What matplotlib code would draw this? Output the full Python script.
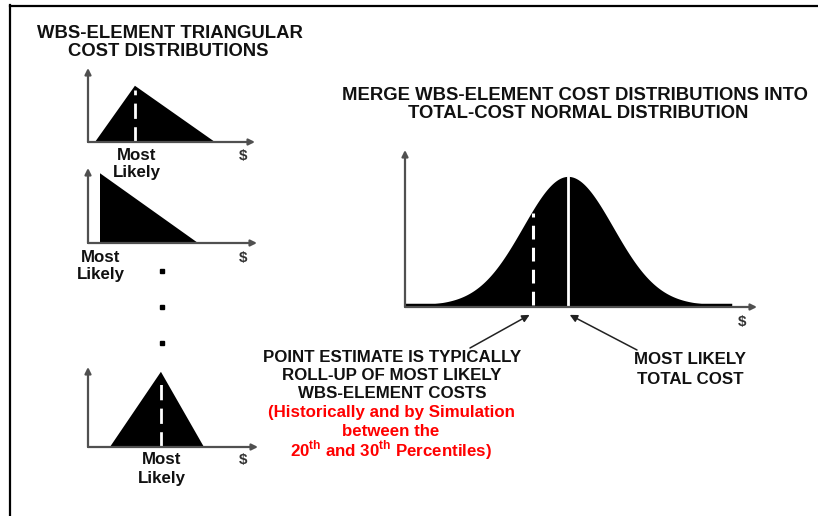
import matplotlib.pyplot as plt
import numpy as np
from matplotlib.lines import Line2D

plt.rcParams['font.family'] = ['Liberation Sans', 'DejaVu Sans']
plt.rcParams['mathtext.fontset'] = 'custom'
plt.rcParams['mathtext.rm'] = 'Liberation Sans:bold'
plt.rcParams['mathtext.bf'] = 'Liberation Sans:bold'

W, H = 818, 516

# triangular distributions (cost axis 0-100, height as share of axis)
tri_low = [4.2, 7.1, 12.9]
tri_mode = [28.1, 7.1, 42.9]
tri_high = [76.0, 65.1, 68.2]
tri_peak = [0.76, 0.93, 0.94]
tri_dashed = [True, False, True]
# pixel boxes of the three small charts: left, top, right, bottom
tri_boxes = [(88, 68, 255, 142), (88, 168, 257, 243), (88, 367, 258, 447)]
tri_label_pos = [(137, 155, 173), (101, 257, 275), (162, 459, 478)]

# total cost normal distribution (cost axis 0-100)
norm_mean = 46.3
norm_sigma = 12.8
norm_end = 92.3
norm_peak = 0.82
point_estimate = 36.4
norm_box = (405, 150, 757, 307)

dot_y = [271, 307, 343]

GRAY = '#505050'
TXT = '#111111'
TITLE_SIZE = 13.3
BODY_SIZE = 12.2


def px_axes(fig, box):
    l, t, r, b = box
    ax = fig.add_axes([l / W, 1 - b / H, (r - l) / W, (b - t) / H])
    ax.set_xlim(0, 100)
    ax.set_ylim(0, 1)
    ax.axis('off')
    return ax


def draw_axes_arrows(ax, lw=1.6):
    arrow = dict(arrowstyle='-|>', color=GRAY, lw=lw, mutation_scale=9,
                 shrinkA=0, shrinkB=0)
    ax.annotate('', xy=(100, 0), xytext=(0, 0), arrowprops=arrow, annotation_clip=False)
    ax.annotate('', xy=(0, 1), xytext=(0, 0), arrowprops=arrow, annotation_clip=False)


def ftext(x, y, s, size=BODY_SIZE, color=TXT, **kw):
    fig.text(x / W, 1 - y / H, s, ha='center', va='center', fontsize=size,
             fontweight='bold', color=color, **kw)


fig = plt.figure(figsize=(W / 100, H / 100), dpi=100)

# frame (cut at right and bottom)
fig.add_artist(Line2D([10 / W, 10 / W], [0, 1 - 5 / H], color='black', lw=1.6))
fig.add_artist(Line2D([10 / W, 1], [1 - 6 / H, 1 - 6 / H], color='black', lw=1.6))

# --- left: WBS-element triangles ---
ftext(170, 33, 'WBS-ELEMENT TRIANGULAR', size=TITLE_SIZE)
ftext(168, 52, 'COST DISTRIBUTIONS', size=TITLE_SIZE)

for i in range(3):
    ax = px_axes(fig, tri_boxes[i])
    ax.fill([tri_low[i], tri_mode[i], tri_high[i]], [0, tri_peak[i], 0],
            color='black', lw=0, zorder=2)
    if tri_dashed[i]:
        ax.plot([tri_mode[i], tri_mode[i]], [0, tri_peak[i] * 0.93], color='white',
                lw=2, dashes=(5.5, 3), zorder=3)
    draw_axes_arrows(ax)
    x, y1, y2 = tri_label_pos[i]
    ftext(x, y1, 'Most')
    ftext(x, y2, 'Likely')
    ftext(243, y1 + 1, '$', size=11, color='#333333')

overlay = fig.add_axes([0, 0, 1, 1])
overlay.set_xlim(0, W)
overlay.set_ylim(H, 0)
overlay.axis('off')
overlay.plot([162] * len(dot_y), dot_y, 's', color='black', ms=3.2)

# --- right: total-cost normal ---
ftext(575, 96, 'MERGE WBS-ELEMENT COST DISTRIBUTIONS INTO', size=TITLE_SIZE)
ftext(578, 114, 'TOTAL-COST NORMAL DISTRIBUTION', size=TITLE_SIZE)

axn = px_axes(fig, norm_box)
xs = np.linspace(0, norm_end, 400)
ys = norm_peak * np.exp(-0.5 * ((xs - norm_mean) / norm_sigma) ** 2)
axn.fill_between(xs, 0.012, ys + 0.012, color='black', lw=0, zorder=2)
axn.plot([0, norm_end], [0.012, 0.012], color='black', lw=2.5, zorder=2)
pe_h = norm_peak * np.exp(-0.5 * ((point_estimate - norm_mean) / norm_sigma) ** 2)
axn.plot([point_estimate] * 2, [0.012, pe_h - 0.01], color='white', lw=2.2,
         dashes=(4.5, 2.7), zorder=3)
axn.plot([norm_mean] * 2, [0.012, norm_peak + 0.005], color='white', lw=2, zorder=3)
draw_axes_arrows(axn)
ftext(742, 322, '$', size=11, color='#333333')

pointer = dict(arrowstyle='-|>', color='#222222', lw=1.1, mutation_scale=11,
               shrinkA=0, shrinkB=0)
axn.annotate('', xy=(point_estimate - 1, -0.05), xytext=(470 / W, 1 - 348 / H),
             textcoords='figure fraction', arrowprops=pointer, annotation_clip=False)
axn.annotate('', xy=(norm_mean + 0.5, -0.05), xytext=(637 / W, 1 - 350 / H),
             textcoords='figure fraction', arrowprops=pointer, annotation_clip=False)

ftext(392, 357, 'POINT ESTIMATE IS TYPICALLY')
ftext(392, 376, 'ROLL-UP OF MOST LIKELY')
ftext(392, 394, 'WBS-ELEMENT COSTS')
ftext(391, 413, '(Historically and by Simulation', color='#ff0000')
ftext(391, 431, 'between the', color='#ff0000')
ftext(391, 450, r'20$^{\mathrm{th}}$ and 30$^{\mathrm{th}}$ Percentiles)', color='#ff0000')

ftext(690, 360, 'MOST LIKELY')
ftext(690, 379, 'TOTAL COST')

fig.savefig('out.png', dpi=100, facecolor='white')
